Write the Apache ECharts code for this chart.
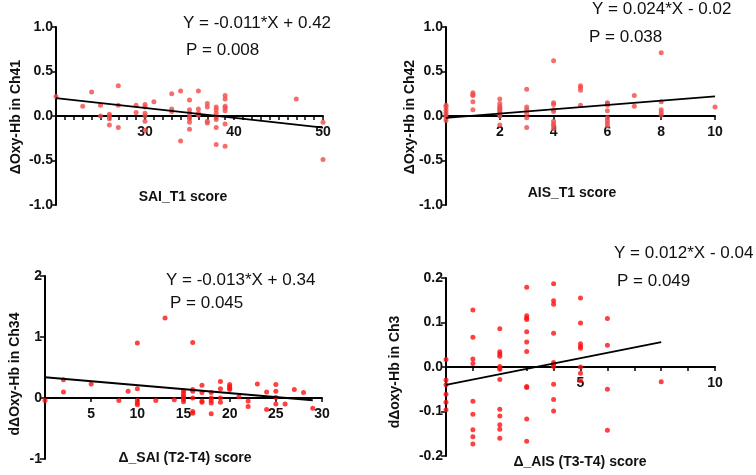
<!DOCTYPE html>
<html>
<head>
<meta charset="utf-8">
<script src="https://cdn.jsdelivr.net/npm/echarts@6/dist/echarts.min.js"></script>
<style>html,body{margin:0;padding:0;background:#fff}#c{width:756px;height:475px}</style>
</head>
<body>
<div id="c"></div>
<script>
// ---- Panel 1: SAI_T1 score vs ΔOxy-Hb in Ch41
var p1X = [20,23,24,25,25,26,26,26,26,27,27,27,29,29,30,30,30,30,30,30,31,33,33,33,34,34,35,35,35,35,35,35,35,36,36,36,36,37,37,37,37,38,38,38,38,38,38,38,39,39,39,39,39,39,39,47,50,50];
var p1Y = [0.22,0.11,0.27,0.12,0.00,0.02,0.00,-0.03,-0.10,0.34,0.12,-0.13,0.12,0.04,0.13,0.10,0.03,0.00,-0.06,-0.16,0.16,0.25,0.08,0.05,0.28,-0.28,0.18,0.07,0.03,-0.01,-0.03,-0.07,-0.15,0.28,0.08,0.03,0.01,0.14,0.10,-0.06,-0.08,0.10,0.07,0.03,-0.01,-0.04,-0.13,-0.32,0.23,0.19,0.11,0.09,0.06,-0.09,-0.34,0.19,-0.07,-0.49];
// ---- Panel 2: AIS_T1 score vs ΔOxy-Hb in Ch42
var p2X = [0,0,0,0,0,0,0,1,1,1,1,1,2,2,2,2,2,2,2,2,2,2,3,3,3,3,3,3,4,4,4,4,4,4,4,4,4,5,5,5,5,6,6,6,6,6,6,6,6,7,7,8,8,8,8,8,10];
var p2Y = [0.12,0.10,0.07,0.04,0.01,-0.02,-0.05,0.26,0.24,0.23,0.16,0.07,0.19,0.14,0.11,0.09,0.08,0.06,0.04,0.02,0.00,-0.10,0.30,0.10,0.07,0.03,-0.02,-0.13,0.62,0.15,0.13,0.07,0.05,-0.06,-0.09,-0.11,-0.14,0.34,0.32,0.29,0.12,0.15,0.14,0.12,0.06,-0.02,-0.05,-0.08,-0.11,0.23,0.11,0.71,0.16,0.07,0.04,0.01,0.10];
// ---- Panel 3: Δ_SAI (T2-T4) score vs dΔOxy-Hb in Ch34
var p3X = [0,2,2,5,8,9,10,10,10,10,10,12,13,14,15,15,15,15,15,15,16,16,16,16,16,16,17,17,17,17,18,18,18,18,18,19,19,19,19,20,20,20,20,21,22,22,23,24,24,25,25,25,25,26,27,28,29];
var p3Y = [-0.04,0.30,0.10,0.23,-0.04,0.11,0.90,0.15,-0.04,-0.08,-0.11,-0.04,1.31,-0.03,0.12,0.08,0.04,0.01,-0.02,-0.06,0.91,0.14,0.11,0.00,-0.22,-0.25,0.21,0.09,-0.05,-0.07,0.09,0.00,-0.04,-0.08,-0.26,0.27,0.15,0.00,-0.07,0.22,0.19,0.16,0.14,0.02,-0.05,-0.14,0.23,0.10,-0.19,0.22,0.11,0.01,-0.10,-0.10,0.14,0.09,-0.17];
// ---- Panel 4: Δ_AIS (T3-T4) score vs dΔoxy-Hb in Ch3
var p4X = [0,0,0,0,0,0,1,1,1,1,1,1,1,1,1,2,2,2,2,2,2,2,2,2,2,2,2,2,3,3,3,3,3,3,3,3,3,3,3,4,4,4,4,4,4,4,4,4,4,5,5,5,5,5,5,5,5,6,6,6,6,8];
var p4Y = [0.017,-0.029,-0.040,-0.061,-0.079,-0.096,0.128,0.067,0.018,0.008,-0.077,-0.106,-0.141,-0.157,-0.173,0.086,0.034,0.029,0.024,0.001,-0.002,-0.005,-0.028,-0.095,-0.110,-0.130,-0.140,-0.160,0.179,0.115,0.110,0.107,0.079,0.056,0.035,-0.044,-0.046,-0.117,-0.167,0.187,0.149,0.141,0.076,0.010,0.006,0.001,-0.039,-0.073,-0.099,0.155,0.099,0.052,0.046,0.042,0.000,-0.014,-0.031,0.109,0.049,-0.050,-0.142,-0.033];

// regression fits (slope, intercept, x-range of fitted line)
var fitSlope = [-0.011, 0.024, -0.013, 0.012];
var fitIntercept = [0.42, -0.02, 0.34, -0.04];
var fitFrom = [20, 0, 0, 0];
var fitTo = [50, 10, 29, 8];

var eqTexts = ['Y = -0.011*X + 0.42', 'Y = 0.024*X - 0.02', 'Y = -0.013*X + 0.34', 'Y = 0.012*X - 0.04'];
var pTexts = ['P = 0.008', 'P = 0.038', 'P = 0.045', 'P = 0.049'];
var xTitles = ['SAI_T1 score', 'AIS_T1 score', 'Δ_SAI (T2-T4) score', 'Δ_AIS (T3-T4) score'];
var yTitles = ['ΔOxy-Hb in Ch41', 'ΔOxy-Hb in Ch42', 'dΔOxy-Hb in Ch34', 'dΔoxy-Hb in Ch3'];

var xMin = [20, 0, 0, 0], xMax = [50, 10, 30, 10], xInt = [1, 2, 5, 1];
var yMin = [-1, -1, -1, -0.2], yMax = [1, 1, 2, 0.2], yInt = [0.5, 0.5, 1, 0.1];
var xLabelShown = [
  function (v) { return v % 10 === 0 && v !== 20; },
  function (v) { return v !== 0; },
  function (v) { return v !== 0; },
  function (v) { return v === 5 || v === 10; }
];
var yDecimals = [1, 1, 0, 1];

var dotColors = ['#f24a4a', '#f24a4a', '#ff1010', '#ff1010'];
var grids = [
  {left: 56, top: 27, width: 267, height: 178},
  {left: 446, top: 27, width: 269, height: 178},
  {left: 45, top: 276, width: 277, height: 183},
  {left: 446, top: 278, width: 269, height: 178}
];
var eqPos = [[183, 25, 186, 52], [592, 11, 589, 39], [166, 282, 170, 305], [614, 255, 617, 283]];
var xTitlePos = [[183, 197], [572, 193], [185, 458], [580, 462]];
var yTitlePos = [[16, 117], [410, 117], [15, 374], [395, 372]];

var font = '"Liberation Sans", Arial, sans-serif';
var series = [], xAxes = [], yAxes = [], graphics = [];
var datasets = [[p1X, p1Y], [p2X, p2Y], [p3X, p3Y], [p4X, p4Y]];

for (var i = 0; i < 4; i++) {
  (function (i) {
    // place the x axis (line, ticks and labels) at y = 0
    var zeroOffset = -grids[i].height * (0 - yMin[i]) / (yMax[i] - yMin[i]);
    xAxes.push({
      gridIndex: i, type: 'value', min: xMin[i], max: xMax[i], interval: xInt[i],
      position: 'bottom', offset: zeroOffset,
      axisLine: {onZero: false, lineStyle: {color: '#000', width: 2}},
      axisTick: {show: true, inside: false, length: 4, lineStyle: {color: '#000', width: 1.5}},
      axisLabel: {
        interval: 0, margin: 9, color: '#111', fontWeight: 'bold', fontSize: 14, fontFamily: font,
        formatter: function (v) { return xLabelShown[i](v) ? String(v) : ''; }
      },
      splitLine: {show: false}
    });
    yAxes.push({
      gridIndex: i, type: 'value', min: yMin[i], max: yMax[i], interval: yInt[i],
      axisLine: {show: true, onZero: false, lineStyle: {color: '#000', width: 2}},
      axisTick: {show: true, length: 5, lineStyle: {color: '#000', width: 1.5}},
      axisLabel: {
        margin: 3, color: '#111', fontWeight: 'bold', fontSize: 14, fontFamily: font,
        formatter: function (v) { return v.toFixed(yDecimals[i]); }
      },
      splitLine: {show: false}
    });
    var pts = [];
    for (var k = 0; k < datasets[i][0].length; k++) pts.push([datasets[i][0][k], datasets[i][1][k]]);
    series.push({
      type: 'scatter', xAxisIndex: i, yAxisIndex: i, data: pts, symbolSize: 5,
      itemStyle: {color: dotColors[i]}, silent: true, z: 3
    });
    series.push({
      type: 'line', xAxisIndex: i, yAxisIndex: i, symbol: 'none', silent: true, z: 4,
      lineStyle: {color: '#000', width: 1.8},
      data: [
        [fitFrom[i], fitSlope[i] * fitFrom[i] + fitIntercept[i]],
        [fitTo[i], fitSlope[i] * fitTo[i] + fitIntercept[i]]
      ]
    });
    graphics.push({type: 'text', left: eqPos[i][0], top: eqPos[i][1] - 10,
      style: {text: eqTexts[i], fill: '#111', font: '17px ' + font}});
    graphics.push({type: 'text', left: eqPos[i][2], top: eqPos[i][3] - 10,
      style: {text: pTexts[i], fill: '#111', font: '17px ' + font}});
    graphics.push({type: 'text', x: xTitlePos[i][0], y: xTitlePos[i][1],
      style: {text: xTitles[i], fill: '#111', font: 'bold 14px ' + font, textAlign: 'center', textVerticalAlign: 'middle'}});
    graphics.push({type: 'text', x: yTitlePos[i][0], y: yTitlePos[i][1], rotation: Math.PI / 2,
      style: {text: yTitles[i], fill: '#111', font: 'bold 14px ' + font, textAlign: 'center', textVerticalAlign: 'middle'}});
  })(i);
}

var chart = echarts.init(document.getElementById('c'), null, {renderer: 'canvas'});
chart.setOption({
  animation: false,
  backgroundColor: '#fff',
  grid: grids,
  xAxis: xAxes,
  yAxis: yAxes,
  series: series,
  graphic: graphics
});
</script>
</body>
</html>
